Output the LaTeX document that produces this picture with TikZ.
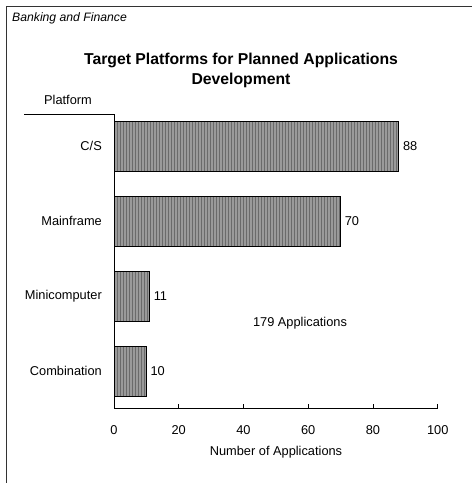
\documentclass[tikz,border=0pt]{standalone}
\usepackage{fontspec}
\setmainfont{Liberation Sans}
\usetikzlibrary{patterns}
\definecolor{barfill}{HTML}{9A9A9A}
\definecolor{stripe}{HTML}{6A6A6A}
\tikzset{
  lbl/.style={inner sep=0pt, font=\fontsize{12.8}{14}\selectfont},
  catlbl/.style={lbl, anchor=east},
  vallbl/.style={lbl, anchor=west},
  ticklbl/.style={lbl, anchor=center},
  barbox/.style={draw=black, line width=0.8pt, fill=barfill, anchor=west,
    minimum height=50pt, inner sep=0pt, outer sep=0pt},
  barstripes/.style={pattern=vertical lines, pattern color=stripe},
  axisline/.style={line width=0.9pt, black},
  frameline/.style={line width=0.9pt, black!80},
}
\begin{document}
\begin{tikzpicture}[x=1pt,y=1pt]
\useasboundingbox (0,0) rectangle (472,-483);
% frame (top and left)
\coordinate (f1) at (6.5,-483);
\coordinate (f2) at (6.5,-6.5);
\coordinate (f3) at (472,-6.5);
\draw[frameline] (f1) -- (f2) -- (f3);
% header and title
\node[inner sep=0pt, anchor=west, font=\fontsize{12.2}{14}\selectfont\itshape] (hdr) at (12,-18) {Banking and Finance};
\node[inner sep=0pt, align=center, font=\fontsize{15.75}{20}\selectfont\bfseries] (title) at (241,-70) {Target Platforms for Planned Applications\\Development};
% platform label
\node[lbl] (plat) at (68,-100) {Platform};
\coordinate (u1) at (24,-114);
\coordinate (o) at (114,-114);
\coordinate (ob) at (114,-408);
\coordinate (xe) at (437.7,-408);
\draw[axisline] (u1) -- (o) -- (ob) -- (xe);
% bars
\foreach \n/\v/\y/\c in {cs/88/146/C\slash S, mf/70/221/Mainframe, mc/11/296/Minicomputer, cb/10/371/Combination}{
  \node[barbox, minimum width=\v*3.237pt] (\n) at (114,-\y) {};
  \fill[barstripes] (\n.south west) rectangle (\n.north east);
  \draw[line width=0.8pt] (\n.south west) rectangle (\n.north east);
  \node[vallbl] (\n v) at ([xshift=4pt]\n.east) {\v};
  \node[catlbl] (\n c) at (102,-\y) {\c};
}
% ticks and tick labels
\foreach \t in {0,20,40,60,80,100}{
  \coordinate (tk\t) at (114+\t*3.237,-408);
  \draw[axisline] (tk\t) -- ++(0,4);
  \node[ticklbl] (tl\t) at (114+\t*3.237,-430) {\t};
}
\node[lbl] (xlab) at (276,-452) {Number of Applications};
\node[lbl] (tot) at (300,-323) {179 Applications};
\end{tikzpicture}
\end{document}
